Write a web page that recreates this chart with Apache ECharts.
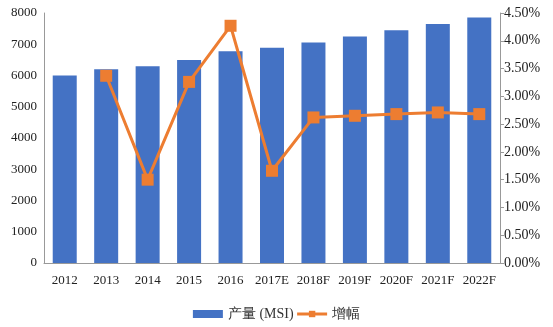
<!DOCTYPE html>
<html><head><meta charset="utf-8">
<script src="https://cdn.jsdelivr.net/npm/echarts@6/dist/echarts.min.js"></script>
<style>html,body{margin:0;padding:0;background:#fff}#c{width:553px;height:327px}</style>
</head><body><div id="c"></div>
<script>
var categories = ['2012','2013','2014','2015','2016','2017E','2018F','2019F','2020F','2021F','2022F'];
var output = [6000, 6200, 6300, 6500, 6780, 6890, 7060, 7250, 7450, 7650, 7860];
var growth = [null, 3.37, 1.50, 3.26, 4.27, 1.66, 2.62, 2.65, 2.68, 2.71, 2.68];
var leftTicks = [0, 8000, 1000];
var rightTicks = [0, 4.5, 0.5];

var font = '"Liberation Serif","Times New Roman",serif';
var chart = echarts.init(document.getElementById('c'));
chart.setOption({
  animation: false,
  textStyle: {fontFamily: font},
  grid: {left: 44, right: 53, top: 13, bottom: 64},
  legend: {
    top: 302, left: 'center', itemGap: 2, itemWidth: 30, itemHeight: 8,
    textStyle: {fontFamily: font, fontSize: 14, color: '#333'},
    data: [{name: '产量 (MSI)', icon: 'rect'},
           {name: '增幅', lineStyle: {width: 3}}]
  },
  xAxis: {
    type: 'category', data: categories,
    axisLine: {lineStyle: {color: '#999'}},
    axisTick: {show: false},
    axisLabel: {color: '#222', fontSize: 13, fontFamily: font, margin: 11, interval: 0}
  },
  yAxis: [{
    type: 'value', min: leftTicks[0], max: leftTicks[1], interval: leftTicks[2],
    axisLine: {show: true, lineStyle: {color: '#999'}},
    axisTick: {show: false},
    splitLine: {show: false},
    axisLabel: {color: '#222', fontSize: 13, fontFamily: font, margin: 7,
      formatter: function (v) { return String(v); }}
  }, {
    type: 'value', min: rightTicks[0], max: rightTicks[1], interval: rightTicks[2],
    axisLine: {show: true, lineStyle: {color: '#999'}},
    axisTick: {show: true, length: 4, lineStyle: {color: '#999'}},
    splitLine: {show: false},
    axisLabel: {color: '#222', fontSize: 14, fontFamily: font, margin: 4,
      formatter: function (v) { return v.toFixed(2) + '%'; }}
  }],
  series: [{
    name: '产量 (MSI)', type: 'bar', data: output, barWidth: 24,
    itemStyle: {color: '#4472C4'}
  }, {
    name: '增幅', type: 'line', yAxisIndex: 1, data: growth,
    symbol: 'rect', symbolSize: 12, connectNulls: false,
    lineStyle: {color: '#ED7D31', width: 3},
    itemStyle: {color: '#ED7D31'}
  }]
});
</script></body></html>
